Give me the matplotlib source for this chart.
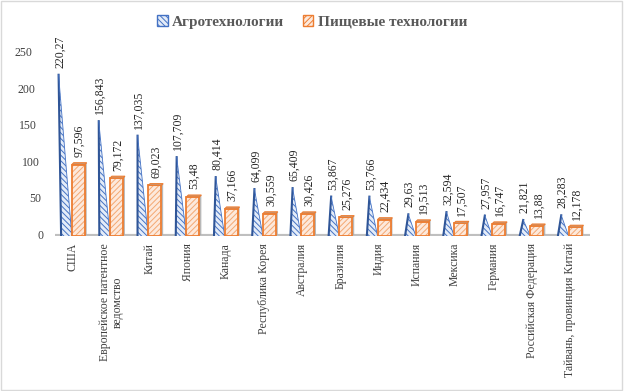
import matplotlib
matplotlib.use("Agg")
import matplotlib.pyplot as plt
from matplotlib.patches import Polygon, Patch, Rectangle

plt.rcParams['font.family'] = ['Liberation Serif', 'DejaVu Serif']
plt.rcParams['hatch.linewidth'] = 0.7

countries = ["США", "Европейское патентное\nведомство", "Китай", "Япония", "Канада",
             "Республика Корея", "Австралия", "Бразилия", "Индия", "Испания",
             "Мексика", "Германия", "Российская Федерация", "Тайвань, провинция Китай"]
agro = [220.27, 156.843, 137.035, 107.709, 80.414, 64.099, 65.409,
        53.867, 53.766, 29.63, 32.594, 27.957, 21.821, 28.283]
food = [97.596, 79.172, 69.023, 53.48, 37.166, 30.559, 30.426,
        25.276, 22.434, 19.513, 17.507, 16.747, 13.88, 12.178]
series = ["Агротехнологии", "Пищевые технологии"]
yticks = [0, 50, 100, 150, 200, 250]

blue = "#4472c4"
blue_dark = "#2f5597"
orange = "#ed7d31"

fig = plt.figure(figsize=(6.24, 3.91), dpi=100)
ax = fig.add_axes([55/624, 1-236/391, 535/624, 183/391])

def fmt(v):
    return ("%g" % v).replace(".", ",")

for i, (a, f) in enumerate(zip(agro, food)):
    # pyramid (blue)
    x0, x1 = i - 0.31, i - 0.03
    apex = i - 0.2 - 0.0008 * a
    ax.add_patch(Polygon([(x0, 0), (x1, 0), (apex, a)], closed=True,
                         facecolor="#e4ecf8", edgecolor=blue, hatch="\\\\\\\\\\\\",
                         lw=0, zorder=2))
    ax.plot([x0, apex], [0, a], color=blue_dark, lw=1.5, zorder=3)
    ax.plot([apex, x1], [a, 0], color=blue, lw=0.6, zorder=3)
    ax.annotate(fmt(a), (apex, a), xytext=(1, 5), textcoords="offset points",
                rotation=90, ha="center", va="bottom", fontsize=8.5,
                color="#262626", annotation_clip=False)

    # box (orange)
    b0, b1 = i - 0.03, i + 0.31
    dx, dy = 0.05, 2.5
    ax.add_patch(Polygon([(b1, 0), (b1 + dx, dy), (b1 + dx, f + dy), (b1, f)],
                         closed=True, facecolor="#a6a6a6", edgecolor="none",
                         alpha=0.8, zorder=1))
    ax.bar(b0, f, width=b1 - b0, align="edge", facecolor="#fde9dc",
           edgecolor="#f4a872", hatch="//////", lw=0, zorder=2)
    ax.bar(b0, f, width=b1 - b0, align="edge", facecolor="none",
           edgecolor=orange, lw=1.3, zorder=3)
    ax.add_patch(Polygon([(b0, f), (b1, f), (b1 + dx, f + dy), (b0 + dx, f + dy)],
                         closed=True, facecolor="#c49a7c", edgecolor=orange,
                         lw=0.8, zorder=3))
    ax.annotate(fmt(f), ((b0 + b1) / 2, f + dy), xytext=(1, 4),
                textcoords="offset points", rotation=90, ha="center",
                va="bottom", fontsize=8.5, color="#262626",
                annotation_clip=False)

# floor
ax.axhline(0, color="#bfbfbf", lw=3, zorder=0)

ax.set_xlim(-0.47, 13.53)
ax.set_ylim(0, 250)
ax.set_yticks(yticks)
ax.set_yticklabels([])
# perspective: value labels lean left as they go up
for v in yticks:
    ax.annotate(str(v), (0, v), xycoords=("axes fraction", "data"),
                xytext=(-8 - 8 * v / 250, 0), textcoords="offset points",
                ha="right", va="center", fontsize=8.5, color="#404040",
                annotation_clip=False)
ax.set_xticks(range(len(countries)))
ax.set_xticklabels(countries, rotation=90, va="top", ha="center",
                   fontsize=8.5, color="#404040", linespacing=1.1)
ax.tick_params(axis="y", length=0)
ax.tick_params(axis="x", length=0, pad=5)
for s in ax.spines.values():
    s.set_visible(False)

handles = [Patch(facecolor="#e4ecf8", edgecolor=blue, hatch="\\\\\\\\\\\\", lw=1),
           Patch(facecolor="#fde9dc", edgecolor=orange, hatch="//////", lw=1)]
fig.legend(handles, series, loc="center", bbox_to_anchor=(0.5, 0.944),
           ncol=2, frameon=False, handlelength=0.7, handleheight=0.7,
           handletextpad=0.3, columnspacing=1.2,
           prop={"weight": "bold", "size": 11}, labelcolor="#595959")

fig.add_artist(Rectangle((0.001, 0.002), 0.996, 0.995, transform=fig.transFigure,
                         fill=False, edgecolor="#d9d9d9", lw=1))

fig.savefig("out.png", dpi=100)
